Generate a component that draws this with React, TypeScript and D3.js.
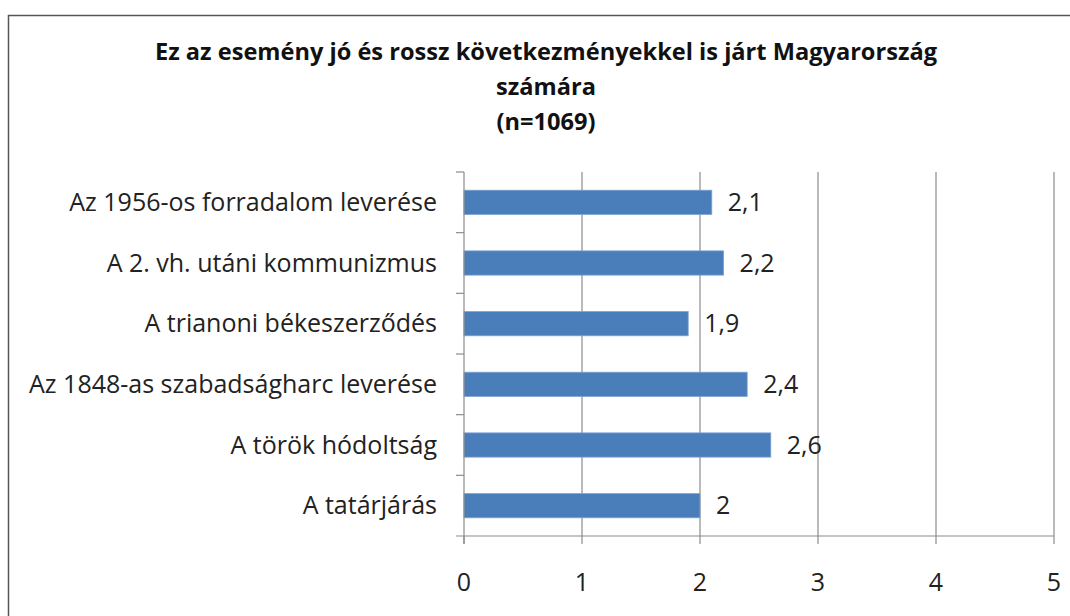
import * as d3 from 'd3';

const WIDTH = 1070;
const HEIGHT = 616;

const MARGIN = { top: 172, right: 16, bottom: 80, left: 464 };

const categories = [
  'Az 1956-os forradalom leverése',
  'A 2. vh. utáni kommunizmus',
  'A trianoni békeszerződés',
  'Az 1848-as szabadságharc leverése',
  'A török hódoltság',
  'A tatárjárás',
];
const values = [2.1, 2.2, 1.9, 2.4, 2.6, 2.0];
const xTicks = [0, 1, 2, 3, 4, 5];
const titleLines = [
  'Ez az esemény jó és rossz következményekkel is járt Magyarország',
  'számára',
  '(n=1069)',
];

const FONT = '"Open Sans", Lato, sans-serif';
const GRID = '#8c8c8c';
const LABEL_SIZE = 25;

function App() {
  const x = d3.scaleLinear()
    .domain([0, 5])
    .range([MARGIN.left, 1054]);

  const y = d3.scaleBand()
    .domain(categories)
    .range([MARGIN.top, 536])
    .paddingInner(0.6)
    .paddingOuter(0.3);

  const band = y.step();
  const fmt = (v: number) => String(v).replace('.', ',');

  return (
    <svg
      width={WIDTH}
      height={HEIGHT}
      style={{ position: 'absolute', left: 0, top: 0, background: '#fff' }}
      fontFamily={FONT}
    >
      <rect x={8.5} y={15.5} width={1080} height={640} fill="#fff" stroke="#555" strokeWidth={1.5} />

      {titleLines.map((t, i) => (
        <text key={t} x={546} y={60 + i * 35} textAnchor="middle" fontSize={23.6} fontWeight="bold" fill="#111">
          {t}
        </text>
      ))}

      {xTicks.filter((t) => t > 0).map((t) => (
        <line key={`g${t}`} x1={x(t)} x2={x(t)} y1={MARGIN.top} y2={544} stroke={GRID} strokeWidth={1.2} />
      ))}

      {categories.map((c, i) => (
        <rect
          key={c}
          x={x(0)}
          y={y(c) ?? 0}
          width={x(values[i]) - x(0)}
          height={y.bandwidth()}
          fill="#4A7EBB"
          stroke="#7ea3d3"
          strokeWidth={0.8}
        />
      ))}

      <line x1={x(0)} x2={x(0)} y1={MARGIN.top} y2={544} stroke={GRID} strokeWidth={1.2} />
      <line x1={456} x2={x(5)} y1={536} y2={536} stroke={GRID} strokeWidth={1.2} />
      {categories.map((c, i) => (
        <line key={`t${i}`} x1={456} x2={x(0)} y1={MARGIN.top + i * band} y2={MARGIN.top + i * band} stroke={GRID} strokeWidth={1.2} />
      ))}
      <line x1={x(0)} x2={x(0)} y1={536} y2={544} stroke={GRID} strokeWidth={1.2} />

      {categories.map((c) => (
        <text
          key={`l${c}`}
          x={437}
          y={(y(c) ?? 0) + y.bandwidth() / 2}
          dy="0.35em"
          textAnchor="end"
          fontSize={LABEL_SIZE}
          fill="#222"
        >
          {c}
        </text>
      ))}

      {categories.map((c, i) => (
        <text
          key={`v${c}`}
          x={x(values[i]) + 16}
          y={(y(c) ?? 0) + y.bandwidth() / 2}
          dy="0.35em"
          fontSize={LABEL_SIZE}
          fill="#222"
        >
          {fmt(values[i])}
        </text>
      ))}

      {xTicks.map((t) => (
        <text key={`x${t}`} x={x(t)} y={582} dy="0.35em" textAnchor="middle" fontSize={LABEL_SIZE} fill="#222">
          {t}
        </text>
      ))}
    </svg>
  );
}

export default App;
